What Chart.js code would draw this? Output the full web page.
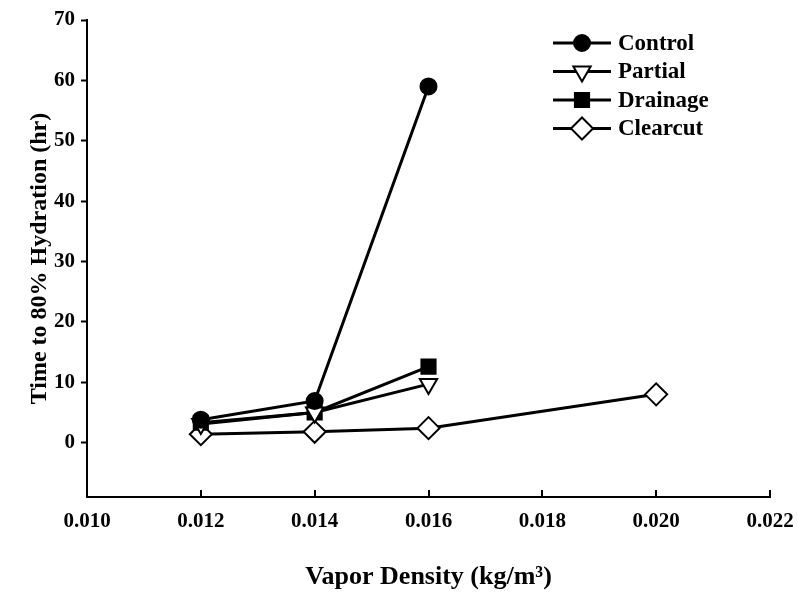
<!DOCTYPE html>
<html>
<head>
<meta charset="utf-8">
<script src="https://cdn.jsdelivr.net/npm/chart.js@4"></script>
<style>
  html, body { margin: 0; padding: 0; background: #fff; }
  #wrap { width: 798px; height: 593px; }
</style>
</head>
<body>
<div id="wrap"><canvas id="hydration-chart" width="798" height="593"></canvas></div>
<script>
// Vapor density (kg/m3) per measurement
const densityControl = [0.012, 0.014, 0.016];
const densityPartial = [0.012, 0.014, 0.016];
const densityDrainage = [0.012, 0.014, 0.016];
const densityClearcut = [0.012, 0.014, 0.016, 0.020];

// Time to 80% hydration (hr)
const hoursControl = [3.8, 6.9, 59.0];
const hoursPartial = [3.1, 5.0, 9.7];
const hoursDrainage = [3.3, 5.0, 12.6];
const hoursClearcut = [1.4, 1.8, 2.4, 8.0];

const seriesNames = ['Control', 'Partial', 'Drainage', 'Clearcut'];
const yTicks = [0, 10, 20, 30, 40, 50, 60, 70];
const xTicks = [0.010, 0.012, 0.014, 0.016, 0.018, 0.020, 0.022];

const FONT = "'Liberation Serif', 'Times New Roman', serif";

function points(xs, ys) {
    return xs.map((x, i) => ({ x: x, y: ys[i] }));
}

function series(label, xs, ys, style, fill, radius, rotation) {
    return {
        label: label,
        data: points(xs, ys),
        showLine: true,
        borderColor: '#000',
        borderWidth: 3,
        pointStyle: style,
        pointRadius: radius,
        pointHoverRadius: radius,
        pointRotation: rotation || 0,
        pointBackgroundColor: fill,
        pointBorderColor: '#000',
        pointBorderWidth: 2,
    };
}

const datasets = [
    series(seriesNames[0], densityControl, hoursControl, 'circle', '#000', 8),
    series(seriesNames[1], densityPartial, hoursPartial, 'triangle', '#fff', 10, 180),
    series(seriesNames[2], densityDrainage, hoursDrainage, 'rect', '#000', 10),
    series(seriesNames[3], densityClearcut, hoursClearcut, 'rectRot', '#fff', 11),
];

// inward tick marks on the x axis
const xTickMarks = {
    id: 'xTickMarks',
    afterDraw(chart) {
        const ctx = chart.ctx;
        const sx = chart.scales.x;
        const y0 = chart.chartArea.bottom;
        ctx.save();
        ctx.strokeStyle = '#000';
        ctx.lineWidth = 2;
        xTicks.forEach(v => {
            const px = Math.round(sx.getPixelForValue(v));
            ctx.beginPath();
            ctx.moveTo(px, y0);
            ctx.lineTo(px, y0 - 7);
            ctx.stroke();
        });
        ctx.restore();
    }
};

// legend with a line through each marker, top right
const lineLegend = {
    id: 'lineLegend',
    afterDraw(chart) {
        const ctx = chart.ctx;
        const x0 = 553, x1 = 611, rowTop = 43, rowGap = 28.5;
        ctx.save();
        chart.data.datasets.forEach((ds, i) => {
            const y = rowTop + i * rowGap;
            ctx.strokeStyle = '#000';
            ctx.lineWidth = 3;
            ctx.beginPath();
            ctx.moveTo(x0, y);
            ctx.lineTo(x1, y);
            ctx.stroke();
            ctx.fillStyle = ds.pointBackgroundColor;
            ctx.strokeStyle = '#000';
            ctx.lineWidth = 2;
            Chart.helpers.drawPoint(ctx, {
                pointStyle: ds.pointStyle,
                rotation: ds.pointRotation,
                radius: ds.pointRadius,
                borderWidth: 2
            }, (x0 + x1) / 2, y);
            ctx.fillStyle = '#000';
            ctx.font = 'bold 23px ' + FONT;
            ctx.textAlign = 'left';
            ctx.textBaseline = 'middle';
            ctx.fillText(ds.label, 618, y + 1);
        });
        ctx.restore();
    }
};

new Chart(document.getElementById('hydration-chart').getContext('2d'), {
    type: 'scatter',
    data: { datasets: datasets },
    plugins: [xTickMarks, lineLegend],
    options: {
        responsive: false,
        animation: false,
        layout: { padding: { top: 20, right: 28, left: 0, bottom: 0 } },
        plugins: {
            legend: { display: false },
            tooltip: { enabled: false }
        },
        scales: {
            x: {
                type: 'linear',
                min: 0.010,
                max: 0.022,
                afterBuildTicks(scale) {
                    scale.ticks = xTicks.map(v => ({ value: v }));
                },
                afterFit(scale) {
                    scale.height = 96;
                    // let the last label hang into the right margin
                    scale.paddingRight = 0;
                    scale.paddingLeft = 0;
                },
                border: { display: true, color: '#000', width: 2 },
                grid: { drawOnChartArea: false, drawTicks: false },
                ticks: {
                    padding: 12,
                    color: '#000',
                    font: { family: FONT, size: 21, weight: 'bold' },
                    callback: v => v.toFixed(3)
                },
                title: {
                    display: true,
                    text: 'Vapor Density (kg/m³)',
                    color: '#000',
                    font: { family: FONT, size: 26, weight: 'bold' },
                    padding: { top: 0, bottom: 0 }
                }
            },
            y: {
                type: 'linear',
                min: -9,
                max: 70,
                afterBuildTicks(scale) {
                    scale.ticks = yTicks.map(v => ({ value: v }));
                },
                afterFit(scale) { scale.width = 87; },
                border: { display: true, color: '#000', width: 2 },
                grid: { drawOnChartArea: false, drawTicks: true, tickLength: 6, tickWidth: 2, color: '#000' },
                ticks: {
                    padding: 6,
                    color: '#000',
                    font: { family: FONT, size: 21, weight: 'bold' }
                },
                title: {
                    display: true,
                    text: 'Time to 80% Hydration (hr)',
                    color: '#000',
                    font: { family: FONT, size: 24, weight: 'bold' },
                    padding: { top: 25, bottom: 0 }
                }
            }
        }
    }
});
</script>
</body>
</html>
